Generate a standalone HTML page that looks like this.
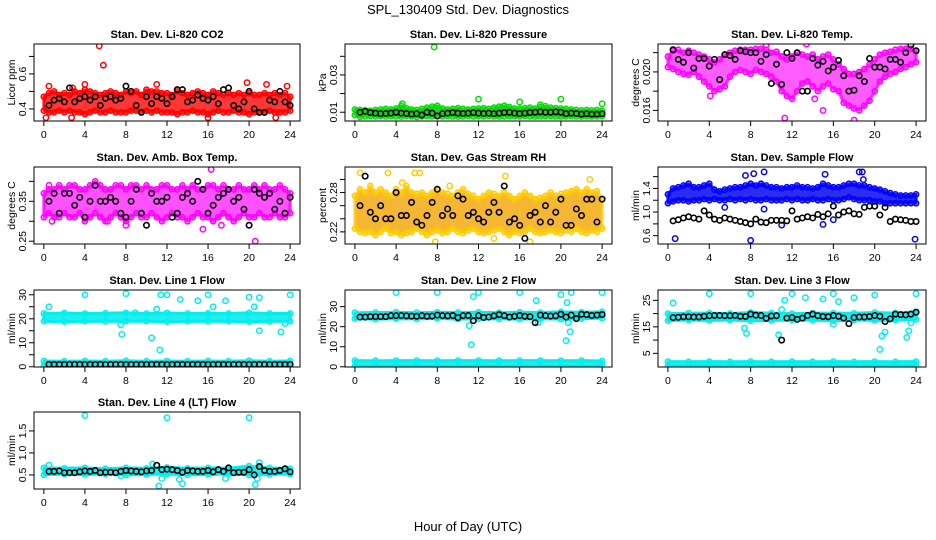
<!DOCTYPE html>
<html><head><meta charset="utf-8"><style>
html,body{margin:0;padding:0;background:#fff}
svg{display:block;font-family:"Liberation Sans",Arial,sans-serif}
</style></head><body>
<svg id="chart" width="936" height="540" viewBox="0 0 936 540">
<text x="468" y="14" text-anchor="middle" font-size="13">SPL_130409  Std. Dev. Diagnostics</text>
<text x="468" y="531" text-anchor="middle" font-size="13">Hour of Day (UTC)</text>
</svg>
<script>
// ---- data ----
const xTicks = [0,4,8,12,16,20,24];
const bandHours = [0,0.5,1,1.5,2,2.5,3,3.5,4,4.5,5,5.5,6,6.5,7,7.5,8,8.5,9,9.5,10,10.5,11,11.5,12,12.5,13,13.5,14,14.5,15,15.5,16,16.5,17,17.5,18,18.5,19,19.5,20,20.5,21,21.5,22,22.5,23,23.5,24];
const coarseHours = [0,2,4,6,8,10,12,14,16,18,20,22,24];
const blkHours = [0.5,1,1.5,2,2.5,3,3.5,4,4.5,5,5.5,6,6.5,7,7.5,8,8.5,9,9.5,10,10.5,11,11.5,12,12.5,13,13.5,14,14.5,15,15.5,16,16.5,17,17.5,18,18.5,19,19.5,20,20.5,21,21.5,22,22.5,23,23.5,24];

// P1 CO2
const co2Lo = [0.39,0.38,0.38,0.39,0.38,0.39,0.38,0.38,0.37,0.38,0.39,0.38,0.38,0.39,0.38,0.38,0.38,0.39,0.39,0.38,0.39,0.38,0.39,0.38,0.38,0.38,0.37,0.38,0.38,0.39,0.38,0.38,0.37,0.38,0.39,0.38,0.38,0.39,0.38,0.38,0.37,0.38,0.38,0.38,0.39,0.38,0.38,0.38,0.39];
const co2Hi = [0.47,0.49,0.50,0.48,0.49,0.48,0.50,0.49,0.51,0.50,0.49,0.48,0.49,0.50,0.49,0.48,0.50,0.49,0.50,0.48,0.51,0.50,0.50,0.49,0.49,0.48,0.50,0.49,0.48,0.49,0.50,0.49,0.48,0.50,0.49,0.48,0.49,0.48,0.49,0.48,0.49,0.48,0.48,0.49,0.48,0.49,0.48,0.49,0.47];
const co2Blk = [0.42,0.45,0.46,0.44,0.52,0.44,0.46,0.47,0.45,0.47,0.42,0.46,0.47,0.45,0.46,0.53,0.50,0.42,0.38,0.47,0.43,0.47,0.46,0.43,0.47,0.51,0.51,0.44,0.45,0.48,0.46,0.45,0.47,0.43,0.51,0.52,0.42,0.40,0.44,0.50,0.40,0.38,0.38,0.45,0.44,0.50,0.44,0.42];
const co2OutX = [5.4,5.8,0.5,2.7,4,11,19.8,21.7,22.6,16,2.8,0.2,23.7];
const co2OutY = [0.76,0.65,0.53,0.35,0.54,0.54,0.55,0.54,0.35,0.35,0.52,0.35,0.53];

// P2 Pressure
const presLo = [0.0085,0.0075,0.0078,0.0080,0.0078,0.0079,0.0078,0.0080,0.0078,0.0077,0.0080,0.0078,0.0075,0.0078,0.0080,0.0078,0.0079,0.0078,0.0080,0.0078,0.0077,0.0078,0.0080,0.0078,0.0079,0.0078,0.0080,0.0078,0.0077,0.0078,0.0080,0.0079,0.0078,0.0080,0.0078,0.0077,0.0078,0.0079,0.0080,0.0078,0.0077,0.0078,0.0080,0.0078,0.0077,0.0078,0.0077,0.0078,0.0080];
const presHi = [0.0115,0.0112,0.0110,0.0108,0.0112,0.0115,0.0118,0.0115,0.0120,0.0135,0.0122,0.0115,0.0112,0.0118,0.0125,0.0130,0.0135,0.0120,0.0115,0.0118,0.0122,0.0118,0.0115,0.0118,0.0120,0.0122,0.0118,0.0125,0.0130,0.0135,0.0128,0.0120,0.0118,0.0122,0.0125,0.0120,0.0128,0.0132,0.0125,0.0122,0.0120,0.0118,0.0115,0.0112,0.0110,0.0112,0.0110,0.0112,0.0108];
const presBlk = [0.0100,0.0105,0.0098,0.0095,0.0092,0.0093,0.0095,0.0100,0.0095,0.0093,0.0090,0.0092,0.0085,0.0100,0.0095,0.0080,0.0092,0.0095,0.0098,0.0095,0.0093,0.0095,0.0098,0.0095,0.0093,0.0095,0.0092,0.0095,0.0098,0.0100,0.0095,0.0092,0.0095,0.0098,0.0100,0.0102,0.0100,0.0100,0.0102,0.0100,0.0092,0.0095,0.0093,0.0090,0.0092,0.0090,0.0090,0.0092];
const presOutX = [7.7,12,16,20,24,4.6,18];
const presOutY = [0.045,0.017,0.0155,0.017,0.0145,0.0145,0.014];

// P3 Li-820 Temp
const tempLo = [0.0205,0.0203,0.0200,0.0198,0.0197,0.0200,0.0195,0.0190,0.0185,0.0180,0.0182,0.0185,0.0195,0.0200,0.0202,0.0200,0.0198,0.0202,0.0200,0.0198,0.0195,0.0190,0.0180,0.0175,0.0172,0.0180,0.0188,0.0190,0.0185,0.0180,0.0185,0.0188,0.0182,0.0180,0.0168,0.0165,0.0162,0.0160,0.0165,0.0170,0.0180,0.0190,0.0195,0.0198,0.0200,0.0203,0.0205,0.0208,0.0210];
const tempHi = [0.0216,0.0222,0.0223,0.0220,0.0222,0.0220,0.0218,0.0216,0.0213,0.0210,0.0213,0.0218,0.0220,0.0222,0.0223,0.0223,0.0223,0.0224,0.0224,0.0223,0.0220,0.0221,0.0216,0.0213,0.0216,0.0220,0.0218,0.0216,0.0218,0.0213,0.0216,0.0218,0.0213,0.0208,0.0203,0.0198,0.0198,0.0200,0.0203,0.0208,0.0213,0.0218,0.0220,0.0221,0.0223,0.0224,0.0224,0.0224,0.0222];
const tempBlk = [0.0223,0.0213,0.0210,0.0220,0.0204,0.0214,0.0214,0.0206,0.0213,0.0192,0.0218,0.0217,0.0213,0.0222,0.0221,0.0220,0.0220,0.0211,0.0218,0.0188,0.0208,0.0187,0.0220,0.0214,0.0220,0.0180,0.0180,0.0214,0.0207,0.0211,0.0201,0.0205,0.0212,0.0196,0.0180,0.0181,0.0196,0.0190,0.0214,0.0205,0.0205,0.0203,0.0213,0.0213,0.0210,0.0220,0.0228,0.0222];
const tempOutX = [11.3,18,15,9.5,13.4,4.1,14.2];
const tempOutY = [0.0152,0.0150,0.0160,0.0228,0.0229,0.0175,0.0172];

// P4 Amb Box Temp
const ambLo = [0.31,0.32,0.31,0.31,0.32,0.31,0.31,0.32,0.30,0.31,0.32,0.31,0.30,0.31,0.32,0.31,0.30,0.31,0.32,0.31,0.31,0.32,0.31,0.30,0.31,0.32,0.31,0.31,0.30,0.31,0.32,0.31,0.31,0.30,0.31,0.32,0.31,0.30,0.31,0.32,0.31,0.31,0.32,0.31,0.31,0.32,0.31,0.31,0.32];
const ambHi = [0.37,0.38,0.38,0.39,0.38,0.39,0.39,0.38,0.38,0.39,0.40,0.39,0.38,0.38,0.39,0.39,0.38,0.39,0.39,0.38,0.39,0.38,0.38,0.39,0.39,0.38,0.38,0.39,0.38,0.39,0.38,0.38,0.39,0.39,0.38,0.39,0.38,0.38,0.39,0.38,0.38,0.39,0.38,0.39,0.38,0.38,0.39,0.38,0.37];
const ambBlk = [0.35,0.37,0.32,0.37,0.37,0.34,0.36,0.31,0.35,0.39,0.35,0.35,0.36,0.35,0.32,0.31,0.35,0.38,0.32,0.29,0.37,0.35,0.35,0.36,0.31,0.32,0.36,0.37,0.35,0.40,0.38,0.32,0.34,0.36,0.37,0.38,0.35,0.36,0.33,0.29,0.38,0.37,0.36,0.37,0.33,0.35,0.32,0.36];
const ambOutX = [0.5,16.3,20.6,15.5,8,17.3,0.8,6.2];
const ambOutY = [0.39,0.43,0.25,0.28,0.29,0.29,0.30,0.30];

// P5 Gas Stream RH
const rhLo = [0.225,0.22,0.218,0.22,0.215,0.22,0.225,0.218,0.22,0.215,0.218,0.22,0.225,0.22,0.215,0.22,0.222,0.218,0.22,0.225,0.22,0.218,0.222,0.225,0.22,0.218,0.22,0.222,0.225,0.22,0.215,0.22,0.218,0.22,0.225,0.22,0.218,0.22,0.222,0.22,0.218,0.222,0.22,0.225,0.22,0.218,0.222,0.22,0.225];
const rhHi = [0.275,0.285,0.28,0.29,0.28,0.285,0.28,0.275,0.285,0.28,0.29,0.28,0.278,0.28,0.275,0.28,0.285,0.28,0.278,0.275,0.28,0.285,0.278,0.275,0.27,0.275,0.28,0.278,0.275,0.28,0.275,0.27,0.275,0.28,0.275,0.27,0.272,0.275,0.28,0.275,0.278,0.28,0.282,0.285,0.28,0.285,0.28,0.282,0.27];
const rhBlk = [0.26,0.305,0.25,0.24,0.26,0.24,0.24,0.28,0.245,0.245,0.265,0.235,0.23,0.245,0.265,0.285,0.245,0.255,0.245,0.275,0.27,0.245,0.25,0.24,0.235,0.25,0.265,0.25,0.29,0.235,0.24,0.23,0.21,0.245,0.25,0.235,0.26,0.235,0.25,0.27,0.23,0.23,0.255,0.245,0.27,0.27,0.235,0.27];
const rhOutX = [0.5,3.2,5.8,6.3,7.8,17,13.5,4.6,22.8,14.6,9.2];
const rhOutY = [0.31,0.31,0.31,0.31,0.205,0.205,0.21,0.295,0.3,0.305,0.29];

// P6 Sample Flow
const flowLo = [1.15,1.18,1.2,1.2,1.18,1.2,1.2,1.22,1.2,1.22,1.2,1.2,1.22,1.2,1.22,1.2,1.22,1.2,1.2,1.22,1.2,1.2,1.2,1.22,1.2,1.22,1.2,1.2,1.22,1.2,1.2,1.22,1.2,1.2,1.22,1.25,1.22,1.2,1.2,1.2,1.18,1.18,1.15,1.15,1.15,1.15,1.15,1.15,1.15];
const flowHi = [1.3,1.4,1.42,1.45,1.48,1.42,1.42,1.45,1.48,1.38,1.35,1.38,1.4,1.42,1.42,1.45,1.48,1.45,1.48,1.45,1.42,1.42,1.4,1.42,1.42,1.45,1.42,1.42,1.4,1.42,1.48,1.45,1.42,1.42,1.45,1.48,1.48,1.45,1.45,1.42,1.4,1.38,1.35,1.32,1.3,1.28,1.28,1.28,1.3];
const flowBlk = [0.85,0.87,0.9,0.92,0.9,0.88,1.02,0.95,0.88,0.86,0.9,0.88,0.86,0.84,0.82,0.8,0.88,0.83,0.82,0.86,0.86,0.86,0.85,1.02,0.88,0.9,0.92,0.9,0.96,0.92,0.97,1.1,0.95,1.0,1.02,0.97,0.96,1.08,1.1,1.1,0.95,1.08,0.84,0.88,0.87,0.86,0.84,0.84];
const flowOutX = [0.7,8,23.9,7.5,8.3,9.3,15.2,18.5,18.8,18.9,11,15,16,5.5,9.3];
const flowOutY = [0.55,0.52,0.54,1.62,1.65,1.68,1.64,1.68,1.68,1.55,0.78,0.79,0.87,1.08,1.05];

// P7 Line 1 Flow
const l1Lo = [19.0,18.8,19.0,18.9,19.0,19.0,18.8,19.0,18.9,19.0,18.8,18.9,19.0];
const l1Hi = [22.2,22.4,22.2,22.3,22.5,22.2,22.4,22.2,22.3,22.2,22.5,22.2,22.2];
const l1BaseLo = [0.3,0.4,0.3,0.4,0.3,0.4,0.3,0.4,0.3,0.4,0.3,0.4,0.3];
const l1BaseHi = [2.4,2.3,2.4,2.3,2.5,2.3,2.4,2.3,2.4,2.3,2.5,2.3,2.4];
const l1Blk = [1,1,1,1,1,1,1,1,1,1,1,1,1,1,1,1,1,1,1,1,1,1,1,1,1,1,1,1,1,1,1,1,1,1,1,1,1,1,1,1,1,1,1,1,1,1,1,1];
const l1OutX = [0.5,4,8,11.4,12,13.3,15,16,17.7,20,21,24,7.5,7.6,10.5,11.3,21,23.1,23.5,16.5,11,20.5,8.9];
const l1OutY = [25,30,30.5,30,30,28,27.5,30,27.5,29,28.8,30,17.5,13.5,12,7,15,14.5,18,25,24,25,22.5];

// P8 Line 2 Flow
const l2Lo = [24.0,23.8,24.0,23.9,24.1,23.8,24.0,23.9,23.8,24.0,23.8,24.0,24.3];
const l2Hi = [27.0,27.1,27.2,27.0,27.2,27.1,27.2,27.0,27.2,27.1,27.4,27.2,27.4];
const l2BaseLo = [0.4,0.3,0.4,0.4,0.3,0.4,0.4,0.3,0.4,0.4,0.3,0.4,0.4];
const l2BaseHi = [3.1,3.0,3.1,3.1,3.0,3.1,3.1,3.0,3.1,3.1,3.0,3.1,2.9];
const l2Blk = [24.8,24.8,25,25,25,25,25.5,25.5,25.6,25.4,25.3,25.2,25.5,25.2,25.3,25.8,25.5,25.4,25.6,24.5,25.5,25.6,23.0,25.5,24.6,24.8,25.4,26.0,25.5,24.8,25.2,25.6,25.2,25.0,22.0,25.8,25.5,25.3,25.4,26.2,24.8,25.8,24.0,26.2,26.0,25.6,25.8,26.1];
const l2OutX = [4,8,11.5,12,16,17.6,20,21,24,11.3,11.1,20.5,20.9,20.7,20.6,17.8];
const l2OutY = [37,37,35,37,37,33,36,37,37,11,20.5,13,17.5,22,32,22];

// P9 Line 3 Flow
const l3Lo = [17.3,17.6,17.4,17.6,17.3,17.4,17.6,17.5,17.3,17.6,17.4,17.6,17.8];
const l3Hi = [20.0,20.2,20.2,20.0,20.4,20.2,20.0,20.2,20.2,20.1,20.4,20.2,20.7];
const l3BaseLo = [0.3,0.3,0.4,0.3,0.3,0.4,0.3,0.3,0.4,0.3,0.3,0.4,0.3];
const l3BaseHi = [1.9,1.8,1.9,1.8,1.9,1.8,1.9,1.8,1.9,1.8,1.9,1.8,1.9];
const l3Blk = [18.5,18.6,18.8,18.8,18.7,18.7,19.0,19.2,19.3,19.3,19.2,19.2,19.3,19.0,18.9,19.8,19.4,19.3,18.2,19.1,19.2,10.0,18.3,18.5,17.8,18.3,19.3,19.8,19.2,18.9,18.8,19.3,19.0,18.3,16.2,18.5,18.7,18.7,18.9,19.3,19.0,17.0,18.0,19.8,19.6,19.5,19.8,20.5];
const l3OutX = [0.5,4,8,11.3,12,13.3,15,16,16.5,18,20,24,7.4,7.6,10.7,20.5,20.7,21,23.1,23.3,23.5,16,11];
const l3OutY = [24,27.5,27.5,25,27.5,26,25.5,27.5,24.5,26,27,27.5,14.5,12.5,12,6.5,11.5,13,11,13.5,16.5,16,21.5];

// P10 Line 4 (LT) Flow
const l4Lo = [0.5,0.52,0.51,0.52,0.5,0.51,0.52,0.5,0.51,0.52,0.5,0.51,0.52];
const l4Hi = [0.66,0.65,0.66,0.64,0.66,0.65,0.67,0.65,0.66,0.65,0.7,0.66,0.64];
const l4Blk = [0.58,0.58,0.59,0.55,0.55,0.55,0.57,0.59,0.58,0.6,0.55,0.56,0.56,0.55,0.58,0.6,0.59,0.58,0.57,0.59,0.6,0.72,0.62,0.63,0.62,0.6,0.56,0.6,0.59,0.58,0.58,0.6,0.57,0.62,0.58,0.66,0.55,0.56,0.56,0.62,0.5,0.69,0.6,0.58,0.58,0.6,0.64,0.57];
const l4OutX = [4,12,20,11.2,13.5,20.6,13.2,11.5,17.7,20.8,10.6,21,0.5,7.5];
const l4OutY = [1.85,1.8,1.8,0.25,0.3,0.28,0.4,0.42,0.42,0.42,0.75,0.78,0.72,0.48];

// ---- layout ----
const cols = [[34,300],[345,612],[658,926]];
const rows = [[44,121],[167,244],[290,367],[412,489]];
const panels = [
 {name:'co2',title:'Stan. Dev. Li-820 CO2',ylab:'Licor ppm',c:0,r:0,ymin:0.331,ymax:0.771,ticks:[0.4,0.5,0.6,0.7],labs:['0.4','','0.6',''],col:'#ff0000',fill:'#ff2020',op:0.9,
  bands:[[bandHours,co2Lo,co2Hi]],ox:co2OutX,oy:co2OutY,blk:co2Blk},
 {name:'pressure',title:'Stan. Dev. Li-820 Pressure',ylab:'kPa',c:1,r:0,ymin:0.0053,ymax:0.0466,ticks:[0.01,0.02,0.03,0.04],labs:['0.01','','0.03',''],col:'#00dd00',fill:'#22bb22',op:0.9,
  bands:[[bandHours,presLo,presHi]],ox:presOutX,oy:presOutY,blk:presBlk},
 {name:'li820-temp',title:'Stan. Dev. Li-820 Temp.',ylab:'degrees C',c:2,r:0,ymin:0.0149,ymax:0.0229,ticks:[0.016,0.018,0.020,0.022],labs:['0.016','','0.020',''],col:'#ff00ff',fill:'#ff33ff',op:0.8,
  bands:[[bandHours,tempLo,tempHi]],ox:tempOutX,oy:tempOutY,blk:tempBlk},
 {name:'amb-temp',title:'Stan. Dev. Amb. Box Temp.',ylab:'degrees C',c:0,r:1,ymin:0.243,ymax:0.436,ticks:[0.25,0.30,0.35,0.40],labs:['0.25','','0.35',''],col:'#ff00ff',fill:'#ff33ff',op:0.85,
  bands:[[bandHours,ambLo,ambHi]],ox:ambOutX,oy:ambOutY,blk:ambBlk},
 {name:'gas-rh',title:'Stan. Dev. Gas Stream RH',ylab:'percent',c:1,r:1,ymin:0.2015,ymax:0.319,ticks:[0.22,0.24,0.26,0.28,0.30],labs:['0.22','','','0.28',''],col:'#ffcc00',fill:'#f2a400',op:0.8,
  bands:[[bandHours,rhLo,rhHi]],ox:rhOutX,oy:rhOutY,blk:rhBlk},
 {name:'sample-flow',title:'Stan. Dev. Sample Flow',ylab:'ml/min',c:2,r:1,ymin:0.459,ymax:1.763,ticks:[0.6,0.8,1.0,1.2,1.4,1.6],labs:['0.6','','1.0','','1.4',''],col:'#0000ff',fill:'#1515ee',op:0.9,
  bands:[[bandHours,flowLo,flowHi]],ox:flowOutX,oy:flowOutY,blk:flowBlk},
 {name:'line1-flow',title:'Stan. Dev. Line 1 Flow',ylab:'ml/min',c:0,r:2,ymin:-0.1,ymax:32,ticks:[0,5,10,15,20,25,30],labs:['0','','10','','20','','30'],col:'#00eeee',fill:'#22eeee',op:1,
  bands:[[coarseHours,l1Lo,l1Hi],[coarseHours,l1BaseLo,l1BaseHi]],ox:l1OutX,oy:l1OutY,blk:l1Blk},
 {name:'line2-flow',title:'Stan. Dev. Line 2 Flow',ylab:'ml/min',c:1,r:2,ymin:-0.1,ymax:38.3,ticks:[0,10,20,30],labs:['0','10','20','30'],col:'#00eeee',fill:'#22eeee',op:1,
  bands:[[coarseHours,l2Lo,l2Hi],[coarseHours,l2BaseLo,l2BaseHi]],ox:l2OutX,oy:l2OutY,blk:l2Blk},
 {name:'line3-flow',title:'Stan. Dev. Line 3 Flow',ylab:'ml/min',c:2,r:2,ymin:-0.15,ymax:28.9,ticks:[5,10,15,20,25],labs:['5','','15','','25'],col:'#00eeee',fill:'#22eeee',op:1,
  bands:[[coarseHours,l3Lo,l3Hi],[coarseHours,l3BaseLo,l3BaseHi]],ox:l3OutX,oy:l3OutY,blk:l3Blk},
 {name:'line4-flow',title:'Stan. Dev. Line 4 (LT) Flow',ylab:'ml/min',c:0,r:3,ymin:0.18,ymax:1.93,ticks:[0.5,1.0,1.5],labs:['0.5','1.0','1.5'],col:'#00eeee',fill:'#22eeee',op:1,
  bands:[[coarseHours,l4Lo,l4Hi]],ox:l4OutX,oy:l4OutY,blk:l4Blk}
];

const NS='http://www.w3.org/2000/svg';
const svg=document.getElementById('chart');
function mk(tag,attrs,parent,txt){const e=document.createElementNS(NS,tag);for(const k in attrs)e.setAttribute(k,attrs[k]);if(txt!==undefined)e.textContent=txt;parent.appendChild(e);return e;}

panels.forEach(p=>{
  const [x0,x1]=cols[p.c],[y0,y1]=rows[p.r];
  const xs=h=>x0+(h+0.96)/25.92*(x1-x0);
  const ys=v=>y1-(v-p.ymin)/(p.ymax-p.ymin)*(y1-y0);
  const g=mk('g',{},svg);
  
  
  const t=mk('text',{x:(x0+x1)/2,y:y0-6,'text-anchor':'middle','font-size':'11','font-weight':'bold'},g,p.title);
  
  
  const yl=mk('text',{transform:`translate(${x0-19},${(y0+y1)/2}) rotate(-90)`,'text-anchor':'middle','font-size':'10.5'},g,p.ylab);
  
  
  const cid='clip-'+p.name;
  const cp=mk('clipPath',{id:cid},g);mk('rect',{x:x0,y:y0,width:x1-x0,height:y1-y0},cp);
  const plot=mk('g',{'clip-path':`url(#${cid})`},g);
  
  
  p.bands.forEach(([hrs,lo,hi])=>{
    let d='M'+hrs.map((h,i)=>xs(h).toFixed(1)+','+ys(hi[i]).toFixed(1)).join('L');
    d+='L'+hrs.map((h,i)=>[h,i]).reverse().map(([h,i])=>xs(h).toFixed(1)+','+ys(lo[i]).toFixed(1)).join('L')+'Z';
    const band=mk('path',{d:d,fill:p.fill,'fill-opacity':p.op,stroke:p.col,'stroke-opacity':p.op,'stroke-width':'3','stroke-linejoin':'round'},plot);
    
    
    hrs.forEach((h,i)=>{
      [lo[i],hi[i]].forEach(v=>{
        const c=mk('circle',{cx:xs(h),cy:ys(v),r:2.6,fill:'none',stroke:p.col,'stroke-width':1.5},plot);
        
        
      });
    });
  });
  p.ox.forEach((h,i)=>{
    const c=mk('circle',{cx:xs(h),cy:ys(p.oy[i]),r:2.7,fill:'none',stroke:p.col,'stroke-width':1.5},plot);
    
    
  });
  blkHours.forEach((h,i)=>{
    const c=mk('circle',{cx:xs(h),cy:ys(p.blk[i]),r:2.7,fill:'none',stroke:'#000','stroke-width':1.6},plot);
    
    
  });
  const box=mk('rect',{x:x0,y:y0,width:x1-x0,height:y1-y0,fill:'none',stroke:'#000','stroke-width':1},g);
  
  
  const xa=mk('g',{},g);
  
  
  mk('line',{x1:xs(0),x2:xs(24),y1:y1,y2:y1,stroke:'#000'},xa);
  xTicks.forEach(h=>{
    mk('line',{x1:xs(h),x2:xs(h),y1:y1,y2:y1+5,stroke:'#000'},xa);
    const tl=mk('text',{x:xs(h),y:y1+17,'text-anchor':'middle','font-size':'10.5'},xa,String(h));
    
    
  });
  const ya=mk('g',{},g);
  
  
  mk('line',{x1:x0,x2:x0,y1:ys(p.ticks[0]),y2:ys(p.ticks[p.ticks.length-1]),stroke:'#000'},ya);
  p.ticks.forEach((v,i)=>{
    mk('line',{x1:x0-5,x2:x0,y1:ys(v),y2:ys(v),stroke:'#000'},ya);
    if(p.labs[i]){
      const tl=mk('text',{transform:`translate(${x0-8},${ys(v)}) rotate(-90)`,'text-anchor':'middle','font-size':'10.5'},ya,p.labs[i]);
      
      
    }
  });
});
</script>
</body></html>
